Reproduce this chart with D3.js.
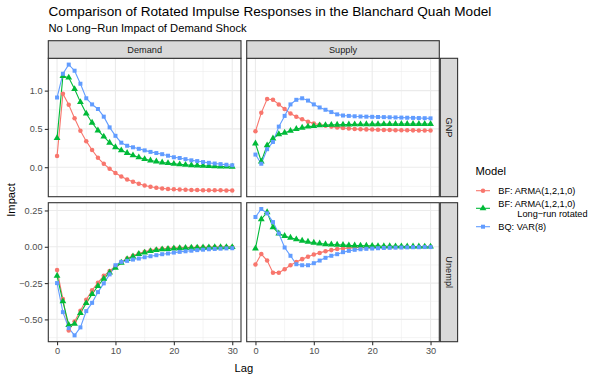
<!DOCTYPE html>
<html>
<head>
<meta charset="utf-8">
<script src="https://cdn.jsdelivr.net/npm/d3@7"></script>
<style>
  body { margin: 0; background: #fff; }
  svg { font-family: "Liberation Sans", Arial, sans-serif; }
</style>
</head>
<body>
<div id="chart"></div>
<script>
// données
const lags = d3.range(0, 31);
const models = ["BF: ARMA(1,2,1,0)", "BF: ARMA(1,2,1,0) Long\u2212run rotated", "BQ: VAR(8)"];
const shocks = ["Demand", "Supply"];
const variables = ["GNP", "Unempl"];
const xTicks = [0, 10, 20, 30];
const gnpTicks = [0, 0.5, 1.0];
const unemplTicks = [-0.5, -0.25, 0, 0.25];

const demandGnpArma = [0.145, 0.96, 0.815, 0.64, 0.475, 0.34, 0.225, 0.123, 0.044, -0.02, -0.075, -0.12, -0.16, -0.19, -0.215, -0.238, -0.255, -0.268, -0.277, -0.284, -0.289, -0.292, -0.295, -0.297, -0.299, -0.3, -0.301, -0.302, -0.302, -0.303, -0.303];
const demandGnpRot = [0.38, 1.19, 1.17, 1.02, 0.85, 0.70, 0.58, 0.48, 0.40, 0.32, 0.26, 0.22, 0.185, 0.155, 0.128, 0.106, 0.088, 0.075, 0.062, 0.053, 0.044, 0.037, 0.031, 0.026, 0.022, 0.018, 0.015, 0.012, 0.01, 0.008, 0.006];
const demandGnpVar = [0.91, 1.22, 1.34, 1.26, 1.09, 0.90, 0.82, 0.76, 0.66, 0.52, 0.41, 0.32, 0.28, 0.26, 0.24, 0.22, 0.20, 0.185, 0.17, 0.15, 0.13, 0.12, 0.105, 0.09, 0.08, 0.067, 0.057, 0.048, 0.04, 0.032, 0.025];

const supplyGnpArma = [0.47, 0.71, 0.89, 0.88, 0.82, 0.76, 0.70, 0.66, 0.625, 0.595, 0.57, 0.555, 0.54, 0.53, 0.52, 0.512, 0.505, 0.50, 0.497, 0.494, 0.491, 0.489, 0.487, 0.485, 0.484, 0.483, 0.482, 0.481, 0.48, 0.48, 0.48];
const supplyGnpRot = [0.31, 0.075, 0.285, 0.375, 0.43, 0.45, 0.475, 0.50, 0.515, 0.53, 0.537, 0.546, 0.55, 0.553, 0.555, 0.557, 0.558, 0.559, 0.56, 0.561, 0.562, 0.562, 0.563, 0.563, 0.564, 0.564, 0.564, 0.565, 0.565, 0.565, 0.565];
const supplyGnpVar = [0.165, 0.045, 0.235, 0.33, 0.53, 0.67, 0.82, 0.88, 0.90, 0.87, 0.82, 0.78, 0.75, 0.72, 0.69, 0.675, 0.67, 0.665, 0.662, 0.66, 0.658, 0.656, 0.654, 0.652, 0.65, 0.648, 0.646, 0.644, 0.642, 0.64, 0.638];

const demandUnArma = [-0.16, -0.36, -0.577, -0.515, -0.44, -0.365, -0.30, -0.247, -0.20, -0.166, -0.134, -0.104, -0.081, -0.062, -0.046, -0.035, -0.025, -0.018, -0.014, -0.011, -0.009, -0.007, -0.006, -0.005, -0.004, -0.003, -0.003, -0.002, -0.002, -0.001, -0.001];
const demandUnRot = [-0.20, -0.376, -0.538, -0.531, -0.457, -0.388, -0.326, -0.27, -0.22, -0.178, -0.145, -0.11, -0.085, -0.067, -0.05, -0.04, -0.03, -0.023, -0.018, -0.015, -0.012, -0.01, -0.008, -0.007, -0.006, -0.005, -0.004, -0.003, -0.003, -0.002, -0.002];
const demandUnVar = [-0.25, -0.45, -0.56, -0.61, -0.555, -0.443, -0.386, -0.312, -0.252, -0.19, -0.127, -0.104, -0.097, -0.088, -0.081, -0.072, -0.065, -0.058, -0.051, -0.046, -0.04, -0.035, -0.031, -0.027, -0.023, -0.02, -0.017, -0.015, -0.013, -0.011, -0.01];

const supplyUnArma = [-0.122, -0.05, -0.095, -0.178, -0.178, -0.155, -0.127, -0.104, -0.085, -0.069, -0.053, -0.042, -0.03, -0.023, -0.016, -0.012, -0.009, -0.007, -0.005, -0.004, -0.003, -0.002, -0.002, -0.001, -0.001, -0.001, 0, 0, 0, 0, 0];
const supplyUnRot = [-0.012, 0.19, 0.238, 0.134, 0.092, 0.074, 0.062, 0.051, 0.042, 0.035, 0.028, 0.023, 0.018, 0.016, 0.014, 0.012, 0.01, 0.009, 0.008, 0.007, 0.006, 0.005, 0.004, 0.004, 0.003, 0.003, 0.002, 0.002, 0.002, 0.001, 0.001];
const supplyUnVar = [0.205, 0.26, 0.23, 0.17, 0.092, -0.005, -0.062, -0.12, -0.127, -0.127, -0.113, -0.095, -0.076, -0.062, -0.051, -0.037, -0.028, -0.021, -0.017, -0.014, -0.012, -0.01, -0.008, -0.007, -0.006, -0.005, -0.004, -0.003, -0.003, -0.002, -0.002];

const colors = ["#F8766D", "#00BA38", "#619CFF"];
const shapes = [d3.symbolCircle, d3.symbolTriangle, d3.symbolSquare];
const smallFont = '9.2px';

// panneaux : [ligne][colonne] -> séries par modèle
const panelData = [
    [[demandGnpArma, demandGnpRot, demandGnpVar], [supplyGnpArma, supplyGnpRot, supplyGnpVar]],
    [[demandUnArma, demandUnRot, demandUnVar], [supplyUnArma, supplyUnRot, supplyUnVar]]
];
const rowTicks = [gnpTicks, unemplTicks];
const rowFormat = [d3.format(".1f"), d3.format(".2f")];

const colX = [[48.3, 241], [246.7, 439.3]];
const rowY = [[58.3, 196.7], [202.7, 341.7]];

const svg = d3.select('#chart').append('svg')
    .attr('width', 600)
    .attr('height', 375);

svg.append('text').attr('x', 48.5).attr('y', 16)
    .style('font-size', '13.6px').attr('fill', '#000')
    .text('Comparison of Rotated Impulse Responses in the Blanchard Quah Model');
svg.append('text').attr('x', 48.5).attr('y', 32)
    .style('font-size', '11.2px').attr('fill', '#000')
    .text('No Long\u2212Run Impact of Demand Shock');

// échelle x commune
const expandX = 30 * 0.05;

rowY.forEach((ry, r) => {
    // échelle y libre par ligne
    const all = d3.merge(panelData[r].map(p => d3.merge(p)));
    const ext = d3.extent(all);
    const pad = (ext[1] - ext[0]) * 0.05;
    const y = d3.scaleLinear().domain([ext[0] - pad, ext[1] + pad]).range([ry[1], ry[0]]);
    const majors = rowTicks[r];
    const step = majors[1] - majors[0];
    const minors = [];
    for (let v = majors[0] - step / 2; v <= y.domain()[1]; v += step) {
        if (v >= y.domain()[0]) minors.push(v);
    }

    colX.forEach((cx, c) => {
        const x = d3.scaleLinear().domain([-expandX, 30 + expandX]).range([cx[0], cx[1]]);
        const g = svg.append('g');

        // grille
        g.selectAll('.ymin').data(minors).enter().append('line')
            .attr('x1', cx[0]).attr('x2', cx[1])
            .attr('y1', d => y(d)).attr('y2', d => y(d))
            .attr('stroke', '#EBEBEB').attr('stroke-width', 0.55);
        g.selectAll('.xmin').data([5, 15, 25]).enter().append('line')
            .attr('y1', ry[0]).attr('y2', ry[1])
            .attr('x1', d => x(d)).attr('x2', d => x(d))
            .attr('stroke', '#EBEBEB').attr('stroke-width', 0.55);
        g.selectAll('.ymaj').data(majors).enter().append('line')
            .attr('x1', cx[0]).attr('x2', cx[1])
            .attr('y1', d => y(d)).attr('y2', d => y(d))
            .attr('stroke', '#EBEBEB').attr('stroke-width', 1.1);
        g.selectAll('.xmaj').data(xTicks).enter().append('line')
            .attr('y1', ry[0]).attr('y2', ry[1])
            .attr('x1', d => x(d)).attr('x2', d => x(d))
            .attr('stroke', '#EBEBEB').attr('stroke-width', 1.1);

        // courbes et points
        panelData[r][c].forEach((vals, m) => {
            const line = d3.line().x((d, i) => x(lags[i])).y(d => y(d));
            g.append('path').datum(vals)
                .attr('d', line)
                .attr('fill', 'none')
                .attr('stroke', colors[m])
                .attr('stroke-width', 1.1);
        });
        panelData[r][c].forEach((vals, m) => {
            const sym = d3.symbol().type(shapes[m]).size(m === 1 ? 20 : 16);
            g.selectAll('.pt' + m).data(vals).enter().append('path')
                .attr('d', sym)
                .attr('transform', (d, i) => `translate(${x(lags[i])},${y(d)})`)
                .attr('fill', colors[m]);
        });

        // bordure
        g.append('rect')
            .attr('x', cx[0]).attr('y', ry[0])
            .attr('width', cx[1] - cx[0]).attr('height', ry[1] - ry[0])
            .attr('fill', 'none').attr('stroke', '#333333').attr('stroke-width', 1.1);

        // axes
        if (c === 0) {
            const ax = svg.append('g')
                .attr('transform', `translate(${cx[0]},0)`)
                .call(d3.axisLeft(y).tickValues(majors).tickFormat(rowFormat[r]).tickSize(3.5).tickPadding(2.3));
            ax.select('.domain').remove();
            ax.selectAll('line').attr('stroke', '#333333').attr('stroke-width', 1.1);
            ax.selectAll('text').attr('fill', '#4D4D4D').style('font-size', smallFont)
                .style('font-family', '"Liberation Sans", Arial, sans-serif');
        }
        if (r === 1) {
            const ax = svg.append('g')
                .attr('transform', `translate(0,${ry[1]})`)
                .call(d3.axisBottom(x).tickValues(xTicks).tickFormat(d3.format('d')).tickSize(3.5).tickPadding(2));
            ax.select('.domain').remove();
            ax.selectAll('line').attr('stroke', '#333333').attr('stroke-width', 1.1);
            ax.selectAll('text').attr('fill', '#4D4D4D').style('font-size', smallFont)
                .style('font-family', '"Liberation Sans", Arial, sans-serif');
        }

        // bandeaux du haut
        if (r === 0) {
            svg.append('rect')
                .attr('x', cx[0]).attr('y', 40.7)
                .attr('width', cx[1] - cx[0]).attr('height', ry[0] - 40.7)
                .attr('fill', '#D9D9D9').attr('stroke', '#333333').attr('stroke-width', 1.1);
            svg.append('text')
                .attr('x', (cx[0] + cx[1]) / 2).attr('y', 52.8)
                .attr('text-anchor', 'middle')
                .style('font-size', smallFont).attr('fill', '#1A1A1A')
                .text(shocks[c]);
        }
    });

    // bandeaux de droite
    svg.append('rect')
        .attr('x', 440.3).attr('y', ry[0])
        .attr('width', 17.3).attr('height', ry[1] - ry[0])
        .attr('fill', '#D9D9D9').attr('stroke', '#333333').attr('stroke-width', 1.1);
    const cy = (ry[0] + ry[1]) / 2;
    svg.append('text')
        .attr('transform', `translate(445.8,${cy}) rotate(90)`)
        .attr('text-anchor', 'middle')
        .style('font-size', smallFont).attr('fill', '#1A1A1A')
        .text(variables[r]);
});

// titres des axes
svg.append('text')
    .attr('transform', 'translate(15,200) rotate(-90)')
    .attr('text-anchor', 'middle')
    .style('font-size', '11.2px').attr('fill', '#000')
    .text('Impact');
svg.append('text')
    .attr('x', 243.8).attr('y', 371.5)
    .attr('text-anchor', 'middle')
    .style('font-size', '11.2px').attr('fill', '#000')
    .text('Lag');

// légende
const legend = svg.append('g');
legend.append('text').attr('x', 475.5).attr('y', 174.5)
    .style('font-size', '11.2px').attr('fill', '#000').text('Model');
const keyY = [190.7, 208.3, 226.7];
const labelLines = [["BF: ARMA(1,2,1,0)"], ["BF: ARMA(1,2,1,0)", "Long\u2212run rotated"], ["BQ: VAR(8)"]];
const labelY = [[194], [206.6, 216.6], [230]];
const labelX = [[498.3], [498.3, 517.3], [498.3]];
models.forEach((m, i) => {
    legend.append('line')
        .attr('x1', 476).attr('x2', 490)
        .attr('y1', keyY[i]).attr('y2', keyY[i])
        .attr('stroke', colors[i]).attr('stroke-width', 1.1);
    legend.append('path')
        .attr('d', d3.symbol().type(shapes[i]).size(i === 1 ? 20 : 16))
        .attr('transform', `translate(483,${keyY[i]})`)
        .attr('fill', colors[i]);
    labelLines[i].forEach((t, j) => {
        legend.append('text')
            .attr('x', labelX[i][j]).attr('y', labelY[i][j])
            .style('font-size', smallFont).attr('fill', '#000')
            .text(t);
    });
});
</script>
</body>
</html>
